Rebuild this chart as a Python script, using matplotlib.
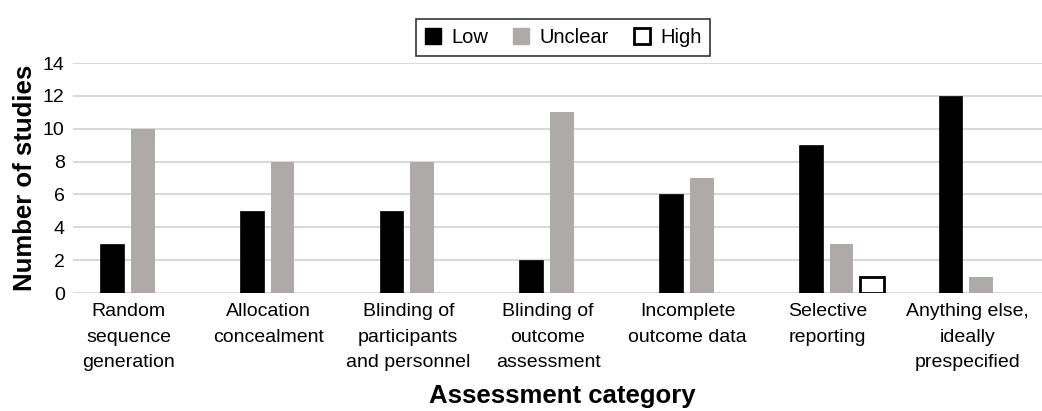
"""Risk of bias assessment: number of studies per judgement."""
import numpy as np
import matplotlib
matplotlib.use("Agg")
import matplotlib.pyplot as plt
from matplotlib.patches import Patch

# -------------------------------------------------------
# Data.
# -------------------------------------------------------
categories = [
    "Random\nsequence\ngeneration",
    "Allocation\nconcealment",
    "Blinding of\nparticipants\nand personnel",
    "Blinding of\noutcome\nassessment",
    "Incomplete\noutcome data",
    "Selective\nreporting",
    "Anything else,\nideally\nprespecified",
]
low = [3, 5, 5, 2, 6, 9, 12]
unclear = [10, 8, 8, 11, 7, 3, 1]
high = [0, 0, 0, 0, 0, 1, 0]
y_ticks = [0, 2, 4, 6, 8, 10, 12, 14]

# -------------------------------------------------------
# Plot setup.
# -------------------------------------------------------
plt.rcParams["font.family"] = ["Liberation Sans", "DejaVu Sans"]
grey = "#aeaaaa"
x = np.arange(len(categories))
w = 0.17

fig = plt.figure(figsize=(10.42, 4.11), dpi=100)
ax = fig.add_axes([73 / 1042, 118 / 411, 978 / 1042, 230 / 411])

ax.bar(x - 0.22, low, w, color="black", edgecolor="black", linewidth=0.5, zorder=3)
ax.bar(x, unclear, w, color=grey, zorder=3)
x_high = [xi + 0.22 for xi, h in zip(x, high) if h > 0]
v_high = [h for h in high if h > 0]
ax.bar(x_high, v_high, w, color="white", edgecolor="black", linewidth=2, zorder=3)

ax.set_xlim(-0.5, len(categories) - 0.5)
ax.set_ylim(0, 14)
ax.set_yticks(y_ticks)
ax.set_xticks(x - 0.1)
ax.set_xticklabels(categories, fontsize=14)
ax.tick_params(axis="both", length=0, labelsize=14)
ax.tick_params(axis="x", pad=7)
ax.tick_params(axis="y", pad=6)
for lbl in ax.get_xticklabels():
    lbl.set_linespacing(1.68)
ax.grid(axis="y", color="#d9d9d9", linewidth=1.5, zorder=0)
for s in ax.spines.values():
    s.set_visible(False)

ax.set_ylabel("Number of studies", fontsize=18.5, fontweight="bold", labelpad=4)
fig.text(0.54, 0.008, "Assessment category", fontsize=18.5, fontweight="bold",
         ha="center", va="bottom")

handles = [
    Patch(facecolor="black", edgecolor="black", label="Low"),
    Patch(facecolor=grey, edgecolor=grey, label="Unclear"),
    Patch(facecolor="white", edgecolor="black", linewidth=2, label="High"),
]
fig.legend(handles=handles, loc="upper center", bbox_to_anchor=(563 / 1042, 0.978),
           ncol=3, fontsize=14.5, frameon=True, fancybox=False, edgecolor="black",
           handlelength=0.8, handleheight=0.8, handletextpad=0.5, columnspacing=1.25,
           borderpad=0.45)
leg = fig.legends[0]
leg.get_frame().set_linewidth(1.2)

fig.savefig("out.png", dpi=100)
plt.close()
